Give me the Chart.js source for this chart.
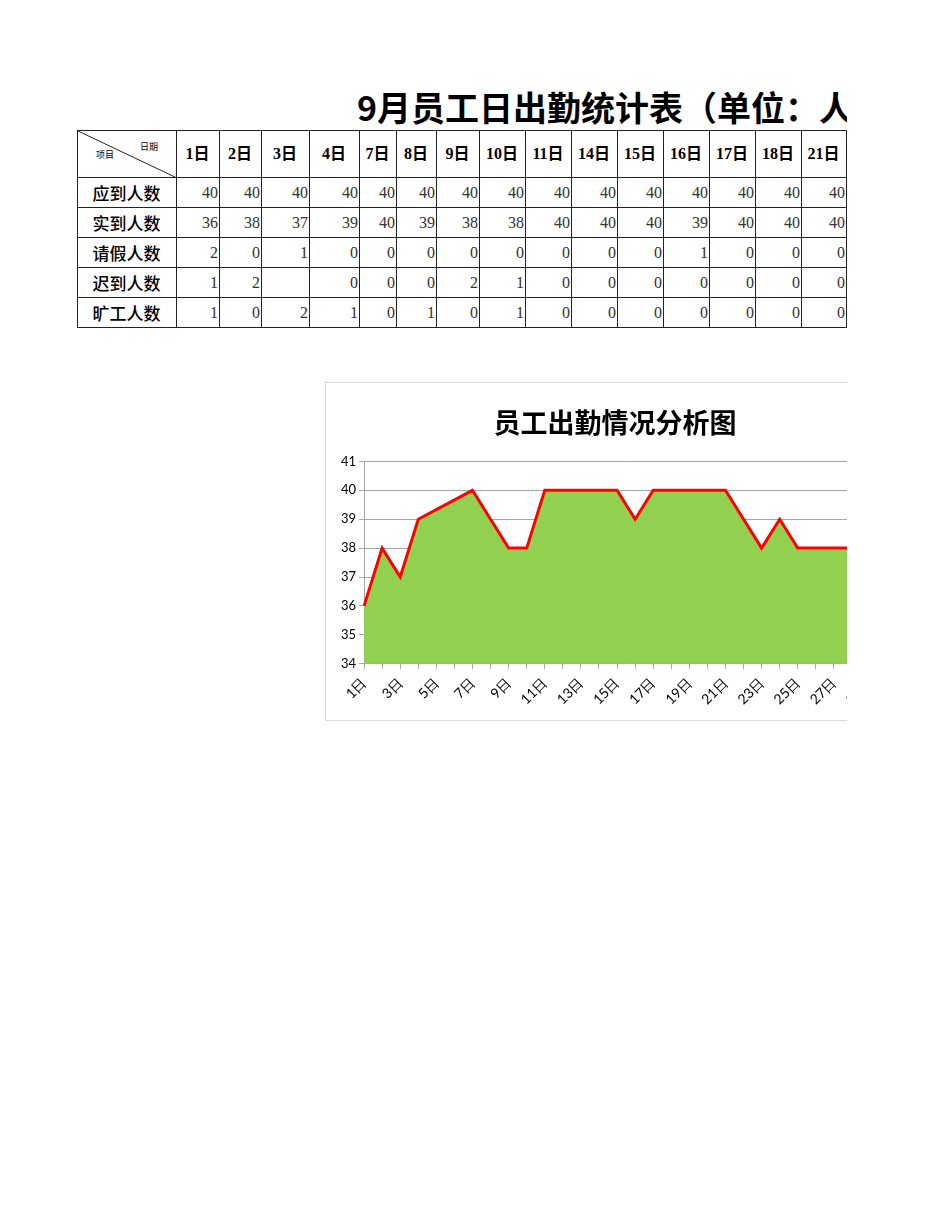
<!DOCTYPE html>
<html>
<head>
<meta charset="utf-8">
<script src="https://cdn.jsdelivr.net/npm/chart.js@4/dist/chart.umd.min.js"></script>
<style>
  html, body { margin: 0; padding: 0; background: #fff; }
  #page { position: relative; width: 847px; height: 1230px; overflow: hidden; }
  #title {
    position: absolute; left: 357px; top: 82px; white-space: nowrap;
    font-family: "Noto Sans CJK SC", sans-serif; font-weight: bold; font-size: 34px; color: #000;
  }
  table {
    position: absolute; left: 77px; top: 130px; border-collapse: collapse; table-layout: fixed;
    font-family: "Liberation Serif", "Noto Sans CJK SC", serif;
  }
  td { border: 1px solid #222; padding: 0 1px 0 0; height: 29px; font-size: 16px; color: #333; text-align: right; line-height: 1; }
  tr.head td { height: 46px; text-align: center; color: #000; font-size: 16px; font-weight: bold; }
  td.label { text-align: center; color: #000; font-family: "Noto Sans CJK SC", sans-serif; font-size: 17px; font-weight: 500; }
  td.corner { position: relative; padding: 0; }
  td.corner svg { position: absolute; left: 0; top: 0; }
  td.corner .d { position: absolute; right: 18px; top: 11px; font-family: "Noto Sans CJK SC", sans-serif; font-size: 9px; font-weight: normal; }
  td.corner .p { position: absolute; left: 18px; top: 19px; font-family: "Noto Sans CJK SC", sans-serif; font-size: 9px; font-weight: normal; }
  #chartBox {
    position: absolute; left: 325px; top: 382px; width: 580px; height: 337px;
    border: 1px solid #d9d9d9; background: #fff;
  }
</style>
</head>
<body>
<div id="page">
  <div id="title">9月员工日出勤统计表（单位：人）</div>
  <table id="sheet"></table>
  <div id="chartBox"><canvas id="attendanceChart" width="580" height="337"></canvas></div>
</div>
<script>
// 表格数据（可见部分）
const tableDates = ['1日', '2日', '3日', '4日', '7日', '8日', '9日', '10日', '11日', '14日', '15日', '16日', '17日', '18日', '21日'];
const rowNames = ['应到人数', '实到人数', '请假人数', '迟到人数', '旷工人数'];
const shouldAttend = [40, 40, 40, 40, 40, 40, 40, 40, 40, 40, 40, 40, 40, 40, 40];
const actualAttend = [36, 38, 37, 39, 40, 39, 38, 38, 40, 40, 40, 39, 40, 40, 40];
const leaveCount = [2, 0, 1, 0, 0, 0, 0, 0, 0, 0, 0, 1, 0, 0, 0];
const lateCount = [1, 2, null, 0, 0, 0, 2, 1, 0, 0, 0, 0, 0, 0, 0];
const absentCount = [1, 0, 2, 1, 0, 1, 0, 1, 0, 0, 0, 0, 0, 0, 0];
const colWidths = [99, 43, 42, 48, 50, 37, 40, 43, 46, 46, 46, 46, 46, 46, 46, 45];

// 图表数据（周末为空）
const dayLabels = ['1日', '2日', '3日', '4日', '5日', '6日', '7日', '8日', '9日', '10日',
  '11日', '12日', '13日', '14日', '15日', '16日', '17日', '18日', '19日', '20日',
  '21日', '22日', '23日', '24日', '25日', '26日', '27日', '28日', '29日', '30日'];
const dailyActual = [36, 38, 37, 39, null, null, 40, 39, 38, 38,
  40, null, null, 40, 40, 39, 40, 40, null, null,
  40, 39, 38, 39, 38, null, null, 38, 38, 38];
const yTicks = { min: 34, max: 41, step: 1 };

function buildTable() {
  const table = document.getElementById('sheet');
  const cg = document.createElement('colgroup');
  colWidths.forEach(w => {
    const c = document.createElement('col');
    c.style.width = w + 'px';
    cg.appendChild(c);
  });
  table.appendChild(cg);

  const head = document.createElement('tr');
  head.className = 'head';
  const corner = document.createElement('td');
  corner.className = 'corner';
  corner.innerHTML = '<svg width="99" height="47"><line x1="0" y1="0" x2="99" y2="47" stroke="#222" stroke-width="1"/></svg>' +
    '<span class="d">日期</span><span class="p">项目</span>';
  head.appendChild(corner);
  tableDates.forEach(d => {
    const td = document.createElement('td');
    td.textContent = d;
    head.appendChild(td);
  });
  table.appendChild(head);

  const rows = [shouldAttend, actualAttend, leaveCount, lateCount, absentCount];
  rows.forEach((vals, i) => {
    const tr = document.createElement('tr');
    const lab = document.createElement('td');
    lab.className = 'label';
    lab.textContent = rowNames[i];
    tr.appendChild(lab);
    vals.forEach(v => {
      const td = document.createElement('td');
      td.textContent = v === null ? '' : v;
      tr.appendChild(td);
    });
    table.appendChild(tr);
  });
}

function renderChart(elementId) {
  const ctx = document.getElementById(elementId).getContext('2d');
  const gridGray = '#a6a6a6';
  new Chart(ctx, {
    type: 'line',
    data: {
      labels: dayLabels,
      datasets: [
        {
          label: '实到人数',
          data: dailyActual,
          borderColor: '#ff0000',
          backgroundColor: '#92d050',
          borderWidth: 3,
          fill: 'start',
          tension: 0,
          spanGaps: true,
          pointRadius: 0,
          pointHoverRadius: 0,
        },
      ],
    },
    options: {
      responsive: false,
      animation: false,
      devicePixelRatio: 1,
      layout: { padding: { left: 12, right: 14, top: 0, bottom: 6 } },
      plugins: {
        legend: { display: false },
        tooltip: { enabled: false },
        title: {
          display: true,
          text: '员工出勤情况分析图',
          color: '#000',
          font: { family: 'Noto Sans CJK SC', size: 27, weight: 'bold' },
          padding: { top: 24, bottom: 22 },
        },
      },
      scales: {
        x: {
          offset: false,
          grid: { display: true, drawOnChartArea: false, drawTicks: true, tickLength: 5, color: gridGray },
          border: { color: gridGray },
          ticks: {
            autoSkip: false,
            minRotation: 45,
            maxRotation: 45,
            padding: 6,
            color: '#000',
            font: { family: 'Lato', size: 14 },
            callback: function (value, index) {
              return index % 2 === 0 ? this.getLabelForValue(value) : '';
            },
          },
        },
        y: {
          min: yTicks.min,
          max: yTicks.max,
          grid: { color: gridGray, tickLength: 5 },
          border: { color: gridGray },
          ticks: {
            stepSize: yTicks.step,
            padding: 3,
            color: '#000',
            font: { family: 'Lato', size: 13 },
          },
        },
      },
    },
  });
}

buildTable();
renderChart('attendanceChart');
</script>
</body>
</html>
